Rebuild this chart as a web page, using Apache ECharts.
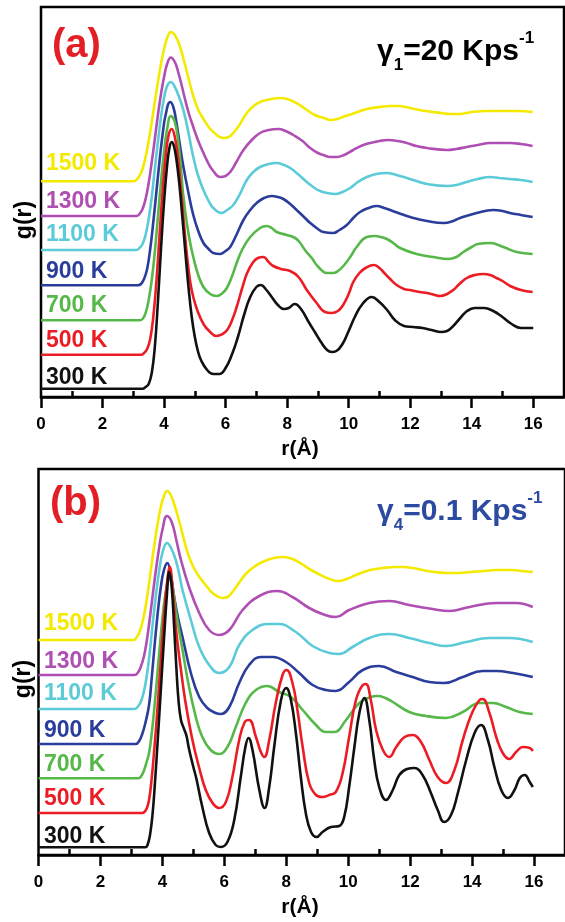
<!DOCTYPE html>
<html><head><meta charset="utf-8">
<script src="https://cdn.jsdelivr.net/npm/echarts@6/dist/echarts.min.js"></script>
<style>html,body{margin:0;padding:0;background:#fff}#c{width:565px;height:922px}</style>
</head><body><div id="c"></div>
<script>
// ---- data ----
const temps = ['300 K','500 K','700 K','900 K','1100 K','1300 K','1500 K'];
const colors = ['#111111','#ec1c24','#55b848','#2b3d9b','#5ccbd8','#b04fb3','#f4ea00'];
const majorTicks = [0,2,4,6,8,10,12,14,16];
const minorTicks = [1,3,5,7,9,11,13,15];
const xName = 'r(Å)';
const yName = 'g(r)';
const rateA = {g:'γ', sub:'1', main:'=20 Kps', sup:'-1'};
const rateB = {g:'γ', sub:'4', main:'=0.1 Kps', sup:'-1'};

// panel (a): g(r) with vertical offsets (arb. units)
const a300 = [[0,8.3],[3.3,8.3],[3.4,10],[3.5,13],[3.6,24],[3.7,50],[3.8,95],[3.9,148],[4.0,195],[4.1,232],[4.18,250],[4.25,255],[4.32,251],[4.4,238],[4.5,212],[4.6,178],[4.7,142],[4.8,108],[4.9,80],[5.0,60],[5.1,46],[5.2,37],[5.4,27],[5.6,23],[5.8,23],[6.0,29],[6.2,42],[6.4,60],[6.6,82],[6.8,100],[7.0,110],[7.15,112],[7.3,108],[7.5,100],[7.7,92],[7.9,88],[8.05,89],[8.25,93],[8.45,88],[8.7,75],[8.9,65],[9.1,55],[9.3,47],[9.45,45],[9.6,46],[9.8,53],[10.0,66],[10.2,80],[10.45,93],[10.75,100],[11.0,95],[11.25,87],[11.5,77],[11.8,71],[12.1,70],[12.4,69],[12.7,67],[13.0,65],[13.2,66],[13.4,71],[13.6,78],[13.85,86],[14.1,89],[14.4,89],[14.7,86],[15.0,80],[15.3,73],[15.6,69],[16.0,69]];
const a500 = [[0,42.2],[3.25,42.2],[3.35,44],[3.45,48],[3.55,58],[3.65,80],[3.75,115],[3.85,160],[3.95,205],[4.05,240],[4.15,262],[4.25,268],[4.35,260],[4.45,240],[4.55,207],[4.65,172],[4.75,140],[4.85,115],[4.95,100],[5.1,85],[5.3,72],[5.5,65],[5.7,61],[5.9,63],[6.05,67],[6.2,76],[6.36,90],[6.55,110],[6.7,124],[6.9,135],[7.05,139],[7.23,140],[7.4,135],[7.55,131],[7.8,128],[8.1,126],[8.37,120],[8.64,107],[8.96,94],[9.23,85],[9.45,84],[9.65,86],[9.8,91],[10.0,103],[10.15,115],[10.35,124],[10.55,129],[10.82,132],[11.0,129],[11.13,125],[11.35,118],[11.56,112],[11.8,108],[12.0,107],[12.3,105],[12.55,104],[12.8,102],[12.97,101],[13.2,103],[13.4,107],[13.6,113],[13.84,119],[14.1,122],[14.38,123],[14.6,122],[14.81,119],[15.0,116],[15.25,111],[15.6,107],[15.98,105]];
const a700 = [[0,76.7],[3.2,76.7],[3.3,78],[3.4,84],[3.5,97],[3.6,117],[3.7,145],[3.8,180],[3.9,215],[4.0,245],[4.1,268],[4.22,281],[4.35,275],[4.45,258],[4.55,228],[4.63,200],[4.75,172],[4.85,154],[4.95,140],[5.1,123],[5.28,110],[5.5,103],[5.71,101],[5.9,104],[6.04,109],[6.2,120],[6.36,134],[6.55,148],[6.8,160],[7.12,169],[7.34,171],[7.5,169],[7.66,165],[7.99,162],[8.26,159],[8.4,155],[8.58,147],[8.8,139],[8.96,132],[9.15,126],[9.29,124],[9.5,124],[9.65,126],[9.83,131],[10.05,140],[10.26,150],[10.59,160],[10.86,161],[11.05,160],[11.24,158],[11.45,154],[11.67,149],[12.21,143],[12.76,140],[13.24,138],[13.5,140],[13.73,145],[14.0,150],[14.2,153],[14.6,154],[15.03,150],[15.46,145],[15.98,143]];
const a900 = [[0,111.8],[3.15,111.8],[3.25,113],[3.35,118],[3.45,128],[3.55,148],[3.65,175],[3.75,205],[3.85,235],[3.95,262],[4.05,282],[4.2,295],[4.3,290],[4.4,275],[4.5,255],[4.63,230],[4.8,203],[4.95,182],[5.1,167],[5.28,154],[5.45,148],[5.6,144],[5.82,143],[6.0,146],[6.15,150],[6.35,162],[6.58,177],[6.8,187],[7.01,194],[7.25,199],[7.5,201],[7.7,200],[7.88,198],[8.1,193],[8.31,187],[8.55,180],[8.75,174],[9.0,168],[9.18,165],[9.5,164],[9.7,167],[9.94,172],[10.15,179],[10.37,185],[10.65,189],[10.92,191],[11.15,189],[11.35,187],[11.7,183],[12.0,180],[12.55,176],[13.09,174],[13.4,176],[13.62,179],[14.16,184],[14.7,187],[15.0,186],[15.24,184],[15.6,182],[15.98,180]];
const a1100 = [[0,147],[3.1,147],[3.2,149],[3.3,153],[3.4,162],[3.5,178],[3.6,200],[3.7,228],[3.8,255],[3.9,280],[4.0,299],[4.1,311],[4.22,315],[4.35,310],[4.45,303],[4.57,293],[4.7,278],[4.82,260],[4.95,240],[5.1,222],[5.28,207],[5.45,196],[5.6,189],[5.87,184],[6.05,187],[6.25,192],[6.45,202],[6.69,217],[6.9,225],[7.12,230],[7.4,233],[7.66,234],[7.9,232],[8.1,229],[8.35,223],[8.64,215],[8.85,210],[9.07,206],[9.3,204],[9.56,203],[9.8,205],[10.05,209],[10.3,215],[10.59,220],[10.9,223],[11.24,224],[11.55,222],[11.89,219],[12.2,216],[12.55,213],[13.2,211],[13.5,212],[13.84,215],[14.2,218],[14.6,220],[14.9,219],[15.24,218],[15.6,217],[15.98,215]];
const a1300 = [[0,181],[3.1,181],[3.2,183],[3.3,188],[3.4,198],[3.5,214],[3.6,235],[3.7,258],[3.8,282],[3.9,303],[4.0,320],[4.1,333],[4.22,339.5],[4.35,335],[4.45,326],[4.57,312],[4.68,298],[4.8,284],[4.95,270],[5.1,257],[5.28,244],[5.45,233],[5.6,226],[5.82,220],[6.0,221],[6.15,225],[6.35,235],[6.58,247],[6.85,257],[7.12,264],[7.4,267],[7.72,268],[7.95,266],[8.2,262],[8.5,256],[8.75,249],[9.0,244],[9.18,242],[9.4,240],[9.62,240],[9.85,242],[10.15,247],[10.4,251],[10.7,254],[11.0,256],[11.29,257],[11.6,256],[11.89,254],[12.2,251],[12.55,249],[13.2,247],[13.5,248],[13.84,250],[14.2,252],[14.6,254],[15.0,254],[15.24,254],[15.6,253],[15.98,251]];
const a1500 = [[0,215.7],[3.0,215.7],[3.1,217],[3.2,221],[3.3,228],[3.4,240],[3.5,256],[3.6,275],[3.7,295],[3.8,315],[3.9,333],[4.0,348],[4.1,359],[4.22,365],[4.35,362],[4.5,352],[4.65,336],[4.8,318],[4.95,301],[5.1,288],[5.28,278],[5.45,270],[5.6,265],[5.93,259],[6.1,260],[6.25,264],[6.45,272],[6.69,284],[6.95,292],[7.2,296],[7.5,298],[7.76,299],[8.0,298],[8.3,294],[8.6,288],[8.9,282],[9.2,279],[9.4,277],[9.63,278],[9.9,281],[10.2,284],[10.6,288],[11.0,290],[11.35,291],[11.6,291],[12.0,289],[12.5,286],[13.0,284],[13.3,283],[13.6,283],[14.0,285],[14.5,286],[15.0,286],[15.5,286],[15.98,285]];

// panel (b)
const b300 = [[0,7.7],[3.45,7.7],[3.52,10],[3.6,20],[3.68,40],[3.76,72],[3.85,115],[3.95,165],[4.05,215],[4.15,262],[4.22,283],[4.3,268],[4.38,228],[4.45,188],[4.52,155],[4.6,135],[4.7,126],[4.78,119],[4.86,106],[5.0,88],[5.1,76],[5.29,48],[5.51,22],[5.72,10],[5.89,8],[6.1,13],[6.32,35],[6.53,78],[6.68,108],[6.78,117],[6.91,105],[7.13,65],[7.3,47],[7.45,68],[7.61,108],[7.83,155],[8.0,167],[8.15,155],[8.31,122],[8.47,78],[8.63,42],[8.8,23],[8.98,18],[9.17,23],[9.44,28],[9.71,29],[9.87,38],[10.03,68],[10.2,108],[10.36,142],[10.52,157],[10.68,135],[10.84,95],[11.0,68],[11.22,55],[11.44,65],[11.65,80],[11.9,86],[12.14,87],[12.4,80],[12.67,62],[12.89,45],[13.1,33],[13.32,40],[13.54,62],[13.81,95],[14.08,122],[14.29,130],[14.51,115],[14.72,88],[14.94,65],[15.16,57],[15.37,65],[15.54,77],[15.7,80],[15.86,73],[15.96,68]];
const b500 = [[0,42],[3.34,42],[3.42,43],[3.5,47],[3.57,55],[3.65,75],[3.75,110],[3.85,150],[3.95,195],[4.05,238],[4.15,272],[4.24,288],[4.33,265],[4.43,228],[4.6,185],[4.75,152],[4.97,115],[5.19,87],[5.4,65],[5.62,52],[5.83,47],[6.05,53],[6.26,78],[6.48,115],[6.66,133],[6.8,135],[7.02,118],[7.18,103],[7.29,98],[7.45,115],[7.66,152],[7.88,180],[8.01,185],[8.2,172],[8.36,145],[8.53,108],[8.74,72],[8.96,60],[9.17,58],[9.39,60],[9.6,63],[9.82,82],[10.03,118],[10.25,155],[10.47,170],[10.57,171],[10.73,155],[10.9,125],[11.12,105],[11.33,98],[11.55,108],[11.82,118],[12.08,120],[12.35,113],[12.62,95],[12.89,78],[13.16,72],[13.43,85],[13.7,115],[13.97,140],[14.24,155],[14.34,156],[14.56,142],[14.78,118],[14.99,102],[15.2,96],[15.42,103],[15.64,108],[15.86,107],[15.96,104]];
const b700 = [[0,76.7],[3.22,76.7],[3.3,78],[3.4,84],[3.5,94],[3.57,102],[3.65,120],[3.75,150],[3.85,185],[3.95,220],[4.05,250],[4.15,270],[4.24,277],[4.33,268],[4.43,245],[4.65,205],[4.86,168],[5.08,138],[5.29,118],[5.56,105],[5.83,101],[6.1,108],[6.37,128],[6.69,152],[7.02,165],[7.39,169],[7.77,163],[8.15,158],[8.53,145],[8.96,130],[9.28,123],[9.55,123],[9.93,135],[10.36,152],[10.73,158],[10.95,159],[11.2,157],[11.44,153],[11.97,143],[12.51,139],[13.16,137],[13.7,143],[14.24,152],[14.67,152],[15.1,148],[15.53,143],[15.96,141]];
const b900 = [[0,111],[3.14,111],[3.25,114],[3.35,121],[3.45,132],[3.57,150],[3.65,175],[3.75,210],[3.85,242],[3.95,268],[4.05,285],[4.16,292],[4.27,281],[4.38,258],[4.5,238],[4.65,218],[4.92,182],[5.19,158],[5.45,147],[5.72,142],[5.89,141],[6.16,148],[6.48,172],[6.8,190],[7.18,198],[7.56,198],[7.99,193],[8.42,182],[8.85,170],[9.28,165],[9.6,164],[10.03,173],[10.47,185],[11.0,189],[11.55,183],[12.08,178],[12.62,173],[13.1,172],[13.7,178],[14.34,184],[14.78,184],[15.32,182],[15.96,178]];
const b1100 = [[0,146],[3.1,146],[3.2,148],[3.3,153],[3.4,163],[3.5,180],[3.6,205],[3.7,235],[3.8,262],[3.9,285],[4.0,302],[4.15,312],[4.28,307],[4.43,295],[4.55,280],[4.65,265],[4.92,235],[5.19,208],[5.51,190],[5.83,182],[6.16,188],[6.48,210],[6.91,225],[7.45,231],[7.75,231],[8.31,223],[8.85,209],[9.39,202],[9.71,201],[10.14,208],[10.68,217],[11.33,221],[11.97,217],[12.62,212],[13.16,209],[13.81,213],[14.56,217],[15.2,217],[15.96,213]];
const b1300 = [[0,180],[3.1,180],[3.2,182],[3.3,188],[3.4,198],[3.5,215],[3.6,238],[3.7,263],[3.8,287],[3.9,308],[4.0,325],[4.15,339],[4.3,333],[4.45,315],[4.6,295],[4.86,268],[5.19,242],[5.51,225],[5.83,220],[6.16,225],[6.59,245],[7.13,259],[7.72,264],[8.2,258],[8.74,247],[9.17,241],[9.6,238],[10.03,245],[10.68,252],[11.33,254],[11.97,250],[12.73,246],[13.27,244],[13.92,248],[14.78,252],[15.42,252],[15.96,248]];
const b1500 = [[0,215],[3.07,215],[3.15,217],[3.25,222],[3.35,232],[3.45,247],[3.55,267],[3.65,290],[3.75,312],[3.85,332],[3.95,348],[4.05,359],[4.15,364],[4.27,360],[4.4,349],[4.55,333],[4.7,315],[4.85,299],[5.0,288],[5.15,280],[5.29,274],[5.45,268],[5.62,262],[5.94,257],[6.1,258],[6.26,263],[6.45,271],[6.69,281],[6.95,288],[7.23,293],[7.6,297],[7.92,298],[8.2,296],[8.5,291],[8.8,285],[9.17,279],[9.4,276],[9.66,274],[9.95,276],[10.25,280],[10.7,285],[11.12,287],[11.5,288],[11.77,288],[12.1,287],[12.4,285],[12.8,283],[13.2,282],[13.6,282],[13.92,283],[14.4,284],[14.78,285],[15.3,285],[15.6,284],[15.96,283]];

const panelA = [a300,a500,a700,a900,a1100,a1300,a1500];
const panelB = [b300,b500,b700,b900,b1100,b1300,b1500];

// ---- chart ----
const FONT = '"Liberation Sans", Arial, Helvetica, sans-serif';
const chart = echarts.init(document.getElementById('c'), null, {renderer:'canvas'});

const grids = [
  {left:41, top:7, width:523, height:390, yMax:390},
  {left:38.5, top:469, width:529, height:386, yMax:386}
];

const xAxes = [], yAxes = [];
grids.forEach((g, i) => {
  xAxes.push({gridIndex:i, type:'value', min:0, max:17,
    axisLine:{show:true, onZero:false, lineStyle:{color:'#000', width:2.5}},
    axisTick:{show:true, inside:false, length:11, customValues:majorTicks, lineStyle:{color:'#000', width:2.5}},
    axisLabel:{show:true, customValues:majorTicks, margin:19, color:'#000', fontSize:17, fontWeight:'bold', fontFamily:FONT},
    splitLine:{show:false}});
  xAxes.push({gridIndex:i, type:'value', min:0, max:17,
    axisLine:{show:false},
    axisTick:{show:true, inside:false, length:6, customValues:minorTicks, lineStyle:{color:'#000', width:2.5}},
    axisLabel:{show:false}, splitLine:{show:false}});
  yAxes.push({gridIndex:i, type:'value', min:0, max:g.yMax, show:false});
});

const series = [];
[panelA, panelB].forEach((panel, pi) => {
  for (let k = panel.length - 1; k >= 0; k--) {
    series.push({type:'line', xAxisIndex:pi*2, yAxisIndex:pi, data:panel[k],
      showSymbol:false, smooth:0.45, silent:true, clip:true,
      lineStyle:{color:colors[k], width:2.6}, itemStyle:{color:colors[k]}});
  }
});

const graphic = [];
const labA = [378,341,306,272,235,202,164];
const labB = [837,799,765,731,694,662,624];
temps.forEach((t, k) => {
  graphic.push({type:'text', x:46, y:labA[k], style:{text:t, fill:colors[k], font:'bold 23px '+FONT, align:'left', verticalAlign:'middle'}});
  graphic.push({type:'text', x:44, y:labB[k], style:{text:t, fill:colors[k], font:'bold 23px '+FONT, align:'left', verticalAlign:'middle'}});
});
function rateText(r, x, y, color) {
  const base = {fontSize:30, fontWeight:'bold', fontFamily:FONT, lineHeight:44, fill:color, verticalAlign:'middle'};
  return {type:'text', x:x, y:y, style:{
    text:'{g|'+r.g+'}{sub|'+r.sub+'}{m|'+r.main+'}{sup|'+r.sup+'}',
    align:'left', verticalAlign:'middle', fill:color,
    rich:{g:base, m:base,
      sub:{fontSize:17, fontWeight:'bold', fontFamily:FONT, lineHeight:17, fill:color, verticalAlign:'bottom'},
      sup:{fontSize:17, fontWeight:'bold', fontFamily:FONT, lineHeight:17, fill:color, verticalAlign:'top'}}}};
}
graphic.push(rateText(rateA, 377, 51.5, '#000'));
graphic.push(rateText(rateB, 377, 511.5, '#2b4aa0'));
graphic.push({type:'text', x:52, y:46, style:{text:'(a)', fill:'#e31e24', font:'bold 40px '+FONT, align:'left', verticalAlign:'middle'}});
graphic.push({type:'text', x:50, y:504, style:{text:'(b)', fill:'#e31e24', font:'bold 40px '+FONT, align:'left', verticalAlign:'middle'}});
graphic.push({type:'text', x:25, y:220, rotation:Math.PI/2, style:{text:yName, fill:'#000', font:'bold 23px '+FONT, align:'center', verticalAlign:'middle'}});
graphic.push({type:'text', x:24, y:679, rotation:Math.PI/2, style:{text:yName, fill:'#000', font:'bold 23px '+FONT, align:'center', verticalAlign:'middle'}});
graphic.push({type:'text', x:300, y:449, style:{text:xName, fill:'#000', font:'bold 21px '+FONT, align:'center', verticalAlign:'middle'}});
graphic.push({type:'text', x:300, y:907, style:{text:xName, fill:'#000', font:'bold 21px '+FONT, align:'center', verticalAlign:'middle'}});

chart.setOption({
  animation:false,
  backgroundColor:'#fff',
  grid: grids.map(g => ({left:g.left, top:g.top, width:g.width, height:g.height, show:true, borderColor:'#000', borderWidth:2.5, backgroundColor:'transparent'})),
  xAxis: xAxes,
  yAxis: yAxes,
  series: series,
  graphic: graphic
});
</script>
</body></html>
